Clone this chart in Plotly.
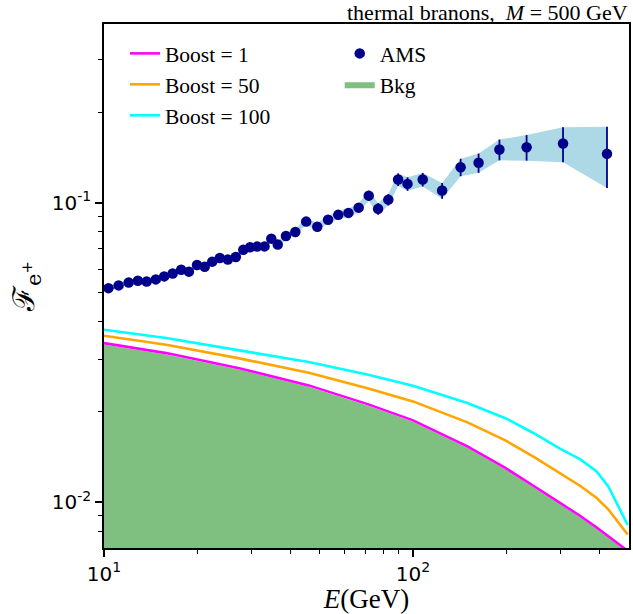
import math
import plotly.graph_objects as go

# AMS positron fraction measurements (energy in GeV, fraction, symmetric error)
energy_ams = [10.34, 11.15, 12.02, 12.87, 13.74, 14.71, 15.66, 16.68, 17.77, 18.83,
              20.0, 21.18, 22.4, 23.7, 25.16, 26.71, 28.24, 29.7, 31.32, 33.08,
              34.79, 36.5, 38.8, 41.6, 45.1, 49.0, 53.1, 57.3, 61.8, 66.7,
              71.9, 77.1, 83.2, 89.5, 96.0, 107.5, 124.2, 142.6, 163.0, 190.4,
              233.1, 305.8, 424.4]
frac_ams = [0.0518, 0.0529, 0.0541, 0.0548, 0.0545, 0.0554, 0.0567, 0.0580, 0.0597, 0.0588,
            0.0619, 0.0611, 0.0635, 0.0653, 0.0646, 0.0658, 0.0696, 0.0709, 0.0713, 0.0714,
            0.0758, 0.0724, 0.0774, 0.0798, 0.0864, 0.0831, 0.0877, 0.0910, 0.0924, 0.0962,
            0.1055, 0.0953, 0.1023, 0.1194, 0.1155, 0.1194, 0.1097, 0.1313, 0.1358, 0.1504,
            0.1531, 0.1575, 0.1455]
err_ams = [0.0010, 0.0010, 0.0010, 0.0010, 0.0010, 0.0011, 0.0011, 0.0011, 0.0012, 0.0012,
           0.0012, 0.0012, 0.0013, 0.0013, 0.0013, 0.0014, 0.0015, 0.0015, 0.0016, 0.0016,
           0.0017, 0.0018, 0.0019, 0.0020, 0.0022, 0.0024, 0.0026, 0.0029, 0.0031, 0.0034,
           0.0040, 0.0042, 0.0045, 0.0058, 0.0060, 0.0062, 0.0066, 0.0088, 0.0100, 0.0120,
           0.0150, 0.0212, 0.0336]

# Model predictions for thermal branons, M = 500 GeV
energy_model = [10.0, 15.9, 27.4, 46.0, 71.7, 100.0, 150.0, 199.0, 246.0, 298.0,
                348.0, 393.0, 429.0, 462.0, 495.0]
bkg = [0.0336, 0.0311, 0.0277, 0.02427, 0.02098, 0.01855, 0.01518, 0.01286, 0.0112, 0.00986,
       0.00889, 0.00814, 0.00762, 0.00719, 0.0068]
boost1 = [0.03395, 0.03143, 0.02799, 0.02452, 0.02119, 0.01874, 0.01533, 0.01299, 0.01131, 0.00996,
          0.00898, 0.00822, 0.00770, 0.00726, 0.00687]
boost50 = [0.0359, 0.0335, 0.03018, 0.0270, 0.02396, 0.02168, 0.01845, 0.01606, 0.01414, 0.0125,
           0.01131, 0.01031, 0.00944, 0.00854, 0.00779]
boost100 = [0.0376, 0.0353, 0.0321, 0.02934, 0.02663, 0.02445, 0.0214, 0.01905, 0.01697, 0.0151,
            0.01387, 0.01265, 0.01125, 0.00965, 0.00838]

# Axis ticks
x_tickvals = [10, 100]
x_ticktext = ["10<sup>1</sup>", "10<sup>2</sup>"]
x_minor = [20, 30, 40, 50, 60, 70, 80, 90, 200, 300, 400]
y_tickvals = [0.01, 0.1]
y_ticktext = ["10<sup>-2</sup>", "10<sup>-1</sup>"]
y_minor = [0.008, 0.009, 0.02, 0.03, 0.04, 0.05, 0.06, 0.07, 0.08, 0.09, 0.2, 0.3]

SERIF = "Liberation Serif, DejaVu Serif, serif"
SANS = "DejaVu Sans, sans-serif"

band_lo = [f - e for f, e in zip(frac_ams, err_ams)]
band_hi = [f + e for f, e in zip(frac_ams, err_ams)]

fig = go.Figure()

# Background flux, filled down to the bottom of the axes
fig.add_trace(go.Scatter(
    x=energy_model, y=bkg, mode="lines",
    line=dict(width=0, color="rgba(0,128,0,0.5)"),
    fill="tozeroy", fillcolor="rgba(0,128,0,0.5)", name="Bkg",
    legend="legend2", legendgroup="bkg", legendrank=2))

# Boosted signal + background curves
for vals, col, lab, rank in [(boost1, "#FF00FF", "Boost = 1", 1),
                             (boost50, "#FFA500", "Boost = 50", 2),
                             (boost100, "#00FFFF", "Boost = 100", 3)]:
    fig.add_trace(go.Scatter(
        x=energy_model, y=vals, mode="lines", line=dict(color=col, width=2.6),
        name=lab, legend="legend", legendgroup=lab, legendrank=rank))

# AMS uncertainty band
fig.add_trace(go.Scatter(x=energy_ams, y=band_lo, mode="lines", line=dict(width=0),
                         showlegend=False, hoverinfo="skip"))
fig.add_trace(go.Scatter(x=energy_ams, y=band_hi, mode="lines", line=dict(width=0),
                         fill="tonexty", fillcolor="#ADD8E6", showlegend=False, hoverinfo="skip"))

# AMS data points
fig.add_trace(go.Scatter(
    x=energy_ams, y=frac_ams, mode="markers",
    marker=dict(color="#00008B", size=10.5),
    error_y=dict(type="data", array=err_ams, color="#00008B", thickness=1.8, width=0),
    name="AMS", legend="legend2", legendgroup="ams", legendrank=1))

axis_common = dict(
    type="log", showline=True, linecolor="black", linewidth=1.6, mirror=True,
    ticks="outside", ticklen=7, tickwidth=1.5, tickcolor="black",
    showgrid=False, zeroline=False,
    tickfont=dict(family=SANS, size=20, color="black"),
)

fig.update_xaxes(
    **axis_common,
    range=[1, math.log10(500)],
    tickmode="array", tickvals=x_tickvals, ticktext=x_ticktext,
    minor=dict(ticks="outside", ticklen=4, tickwidth=1, tickcolor="black",
               tickmode="array", tickvals=x_minor, showgrid=False),
    title=dict(text="<i>E</i>(GeV)", font=dict(family=SERIF, size=27, color="black"), standoff=7),
)
fig.update_yaxes(
    **axis_common,
    range=[math.log10(0.00702), math.log10(0.395)],
    tickmode="array", tickvals=y_tickvals, ticktext=y_ticktext,
    minor=dict(ticks="outside", ticklen=4, tickwidth=1, tickcolor="black",
               tickmode="array", tickvals=y_minor, showgrid=False),
    title=dict(text="ℱ<sub>e<sup>+</sup></sub>", font=dict(family="DejaVu Serif, serif", size=30, color="black"),
               standoff=8),
)

legend_style = dict(bgcolor="rgba(0,0,0,0)", borderwidth=0, tracegroupgap=0,
                    font=dict(family=SERIF, size=21.5, color="black"),
                    xanchor="left", yanchor="top", orientation="v")

fig.update_layout(
    width=633, height=614,
    margin=dict(l=104, r=2, t=24, b=66),
    plot_bgcolor="white", paper_bgcolor="white",
    legend=dict(x=0.04, y=0.983, **legend_style),
    legend2=dict(x=0.449, y=0.983, **legend_style),
    annotations=[dict(
        text="thermal branons,&nbsp; <i>M</i> = 500 GeV", xref="paper", yref="paper",
        x=1, y=1, xanchor="right", yanchor="bottom", xshift=1, yshift=-3, showarrow=False,
        font=dict(family=SERIF, size=22, color="black"))],
)

fig.write_html("out.html")
